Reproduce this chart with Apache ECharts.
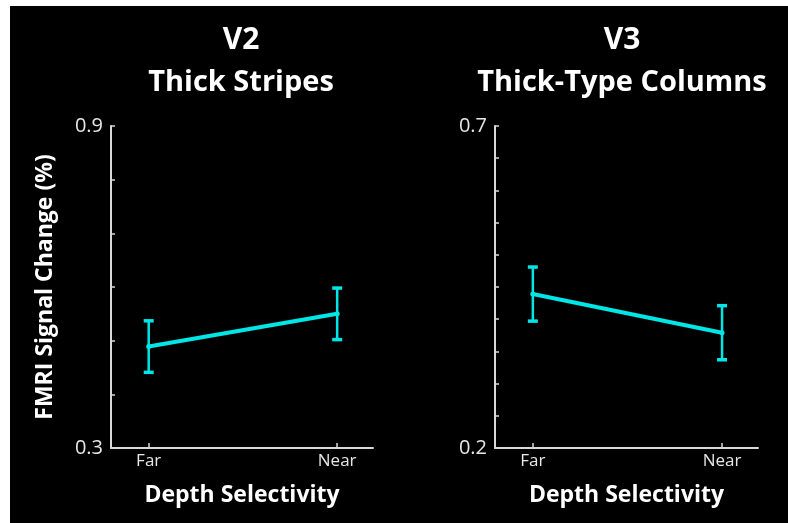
<!DOCTYPE html>
<html>
<head>
<meta charset="utf-8">
<script src="https://cdn.jsdelivr.net/npm/echarts@6/dist/echarts.min.js"></script>
<style>
html,body{margin:0;padding:0;background:#fff;}
#chart{width:788px;height:523px;}
</style>
</head>
<body>
<div id="chart"></div>
<script>
// ---- data ----
var categories = ['Far', 'Near'];
var v2Means = [0.489, 0.550];
var v2Err = [0.048, 0.048];
var v3Means = [0.439, 0.379];
var v3Err = [0.042, 0.042];
var v2TickLabels = [0.3, 0.9];
var v3TickLabels = [0.2, 0.7];
var panelTitles = [['V2', 'Thick Stripes'], ['V3', 'Thick-Type Columns']];
var xName = 'Depth Selectivity';
var yName = 'FMRI Signal Change (%)';

var cyan = '#00e5e5';
var axisCol = '#d9d9d9';
var font = 'Open Sans';

function pts(means) {
  return means.map(function (m, i) { return [i + 1, m]; });
}
function errs(means, e) {
  return means.map(function (m, i) { return [i + 1, m - e[i], m + e[i]]; });
}
function errRender(params, api) {
  var x = api.value(0);
  var lo = api.coord([x, api.value(1)]);
  var hi = api.coord([x, api.value(2)]);
  var hw = 5;
  var st = { stroke: cyan, lineWidth: 2.5 };
  var cap = { stroke: cyan, lineWidth: 3.5 };
  return {
    type: 'group',
    children: [
      { type: 'line', shape: { x1: lo[0], y1: lo[1], x2: hi[0], y2: hi[1] }, style: st },
      { type: 'line', shape: { x1: lo[0] - hw, y1: lo[1], x2: lo[0] + hw, y2: lo[1] }, style: cap },
      { type: 'line', shape: { x1: hi[0] - hw, y1: hi[1], x2: hi[0] + hw, y2: hi[1] }, style: cap }
    ]
  };
}

function xAxisOpt(gi) {
  return {
    gridIndex: gi, type: 'value', min: 0.8, max: 2.19,
    name: xName, nameLocation: 'middle', nameGap: 36,
    nameTextStyle: { color: '#fff', fontFamily: font, fontWeight: 'bold', fontSize: 23 },
    axisLine: { show: true, lineStyle: { color: axisCol, width: 2 } },
    axisTick: { show: true, inside: true, length: 5, customValues: [1, 2], lineStyle: { color: axisCol, width: 1.5 } },
    axisLabel: { show: true, customValues: [1, 2], margin: 5, color: '#e6e6e6', fontFamily: font, fontSize: 17,
      formatter: function (v) { return categories[Math.round(v) - 1]; } },
    splitLine: { show: false }
  };
}
function yAxisOpt(gi, min, max, interval, labels, showName) {
  return {
    gridIndex: gi, type: 'value', min: min, max: max, interval: interval,
    name: showName ? yName : '', nameLocation: 'middle', nameGap: 54, nameRotate: 90,
    nameTextStyle: { color: '#fff', fontFamily: font, fontWeight: 'bold', fontSize: 23 },
    axisLine: { show: true, lineStyle: { color: axisCol, width: 2 } },
    axisTick: { show: true, inside: true, length: 4, lineStyle: { color: axisCol, width: 1.5 } },
    axisLabel: { show: true, customValues: labels, margin: 8, color: '#e6e6e6', fontFamily: font, fontSize: 20,
      formatter: function (v) { return v.toFixed(1); } },
    splitLine: { show: false }
  };
}

var titleEls = [];
[[241, panelTitles[0]], [622, panelTitles[1]]].forEach(function (t) {
  titleEls.push({ type: 'text', x: t[0], y: 40, silent: true,
    style: { text: t[1][0], fill: '#fff', font: 'bold 30px "Open Sans"', textAlign: 'center', textVerticalAlign: 'middle' } });
  titleEls.push({ type: 'text', x: t[0], y: 83, silent: true,
    style: { text: t[1][1], fill: '#fff', font: 'bold 29px "Open Sans"', textAlign: 'center', textVerticalAlign: 'middle' } });
});

var chart = echarts.init(document.getElementById('chart'), null, { renderer: 'canvas' });
chart.setOption({
  backgroundColor: '#fff',
  animation: false,
  graphic: [{ type: 'rect', z: -100, silent: true, shape: { x: 10, y: 6, width: 778, height: 517 }, style: { fill: '#000' } }].concat(titleEls),
  grid: [
    { left: 111, top: 126, width: 262, height: 322 },
    { left: 495, top: 126, width: 263, height: 322 }
  ],
  xAxis: [xAxisOpt(0), xAxisOpt(1)],
  yAxis: [
    yAxisOpt(0, 0.3, 0.9, 0.1, v2TickLabels, true),
    yAxisOpt(1, 0.2, 0.7, 0.05, v3TickLabels, false)
  ],
  series: [
    { type: 'line', xAxisIndex: 0, yAxisIndex: 0, data: pts(v2Means), symbol: 'circle', symbolSize: 5,
      lineStyle: { color: cyan, width: 4 }, itemStyle: { color: cyan }, z: 3 },
    { type: 'custom', xAxisIndex: 0, yAxisIndex: 0, data: errs(v2Means, v2Err), renderItem: errRender, encode: { x: 0, y: [1, 2] }, z: 4 },
    { type: 'line', xAxisIndex: 1, yAxisIndex: 1, data: pts(v3Means), symbol: 'circle', symbolSize: 5,
      lineStyle: { color: cyan, width: 4 }, itemStyle: { color: cyan }, z: 3 },
    { type: 'custom', xAxisIndex: 1, yAxisIndex: 1, data: errs(v3Means, v3Err), renderItem: errRender, encode: { x: 0, y: [1, 2] }, z: 4 }
  ]
});
</script>
</body>
</html>
